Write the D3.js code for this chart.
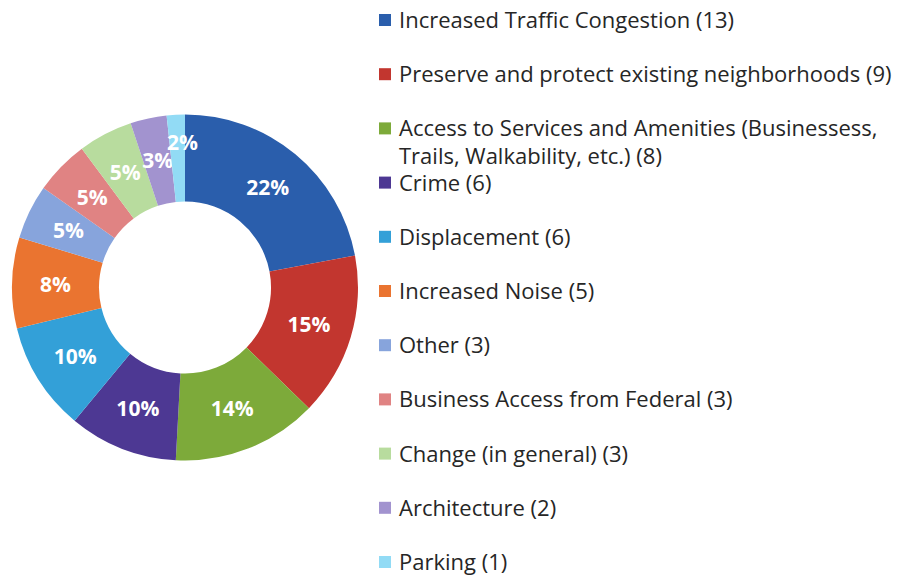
<!DOCTYPE html>
<html>
<head>
<meta charset="utf-8">
<script src="https://cdn.jsdelivr.net/npm/d3@7"></script>
<style>
	body { margin: 0; background: #fff; }
	svg { display: block; }
	.sliceLabel { font-family: "Open Sans", sans-serif; font-weight: bold; font-size: 21px; fill: #fff; }
	.legendText { font-family: "Open Sans", sans-serif; font-size: 22px; fill: #262626; }
</style>
</head>
<body>
<div id="chart"></div>
<script>
// data
var categories = [
	'Increased Traffic Congestion',
	'Preserve and protect existing neighborhoods',
	'Access to Services and Amenities (Businessess, Trails, Walkability, etc.)',
	'Crime',
	'Displacement',
	'Increased Noise',
	'Other',
	'Business Access from Federal',
	'Change (in general)',
	'Architecture',
	'Parking'
];
var counts = [13, 9, 8, 6, 6, 5, 3, 3, 3, 2, 1];
var colors = ['#2a5eac', '#c2362f', '#7daa3a', '#4d3893', '#33a0d8', '#ea7430',
	'#87a4dc', '#e08383', '#b8dc9e', '#a293cf', '#92dbf5'];

var width = 908, height = 575;
var cx = 185, cy = 287.5;
var outerRadius = 173, innerRadius = 86;

var svg = d3.select('#chart')
	.append('svg')
	.attr('width', width)
	.attr('height', height);

var total = d3.sum(counts);
var data = counts.map(function(v, i) { return {name: categories[i], value: v, color: colors[i]}; });

var pie = d3.pie()
	.sort(null)
	.value(function(d) { return d.value; });

var arc = d3.arc()
	.innerRadius(innerRadius)
	.outerRadius(outerRadius);

// tiny slices get their label pushed a bit outward, like the original
var smallArc = d3.arc()
	.innerRadius(innerRadius + 16)
	.outerRadius(outerRadius + 16);

function isTiny(d) { return d.data.value / total < 0.02; }

var g = svg.append('g')
	.attr('transform', 'translate(' + cx + ',' + cy + ')');

var arcs = g.selectAll('g.arc')
	.data(pie(data))
	.enter()
	.append('g')
	.attr('class', 'arc');

arcs.append('path')
	.attr('fill', function(d) { return d.data.color; })
	.attr('d', arc);

arcs.append('text')
	.classed('sliceLabel', true)
	.attr('transform', function(d) {
		var c = isTiny(d) ? smallArc.centroid(d) : arc.centroid(d);
		return 'translate(' + c + ')';
	})
	.attr('text-anchor', 'middle')
	.attr('dx', function(d) { return isTiny(d) ? '0.25em' : 0; })
	.attr('dy', '0.36em')
	.text(function(d) { return Math.round(d.data.value / total * 100) + '%'; });

// legend
var legendX = 379, legendY = 20, keyHeight = 54.2, keySize = 12, lineHeight = 28;
var textX = legendX + 20;
var maxTextWidth = width - textX - 4;

var legendKeys = svg.selectAll('.keys')
	.data(data)
	.enter()
	.append('g')
	.attr('class', 'keys')
	.attr('transform', function(d, i) { return 'translate(0,' + (legendY + i * keyHeight) + ')'; });

legendKeys.append('rect')
	.attr('x', legendX)
	.attr('y', -keySize / 2)
	.attr('width', keySize)
	.attr('height', keySize)
	.attr('fill', function(d) { return d.color; });

legendKeys.append('text')
	.classed('legendText', true)
	.attr('x', textX)
	.attr('y', 0)
	.each(function(d) {
		var text = d3.select(this);
		var words = (d.name + ' (' + d.value + ')').split(' ');
		var line = [];
		var tspan = text.append('tspan').attr('x', textX).attr('dy', '0.36em');
		words.forEach(function(w) {
			line.push(w);
			tspan.text(line.join(' '));
			if (tspan.node().getComputedTextLength() > maxTextWidth && line.length > 1) {
				line.pop();
				tspan.text(line.join(' '));
				line = [w];
				tspan = text.append('tspan').attr('x', textX).attr('dy', lineHeight).text(w);
			}
		});
	});
</script>
</body>
</html>
